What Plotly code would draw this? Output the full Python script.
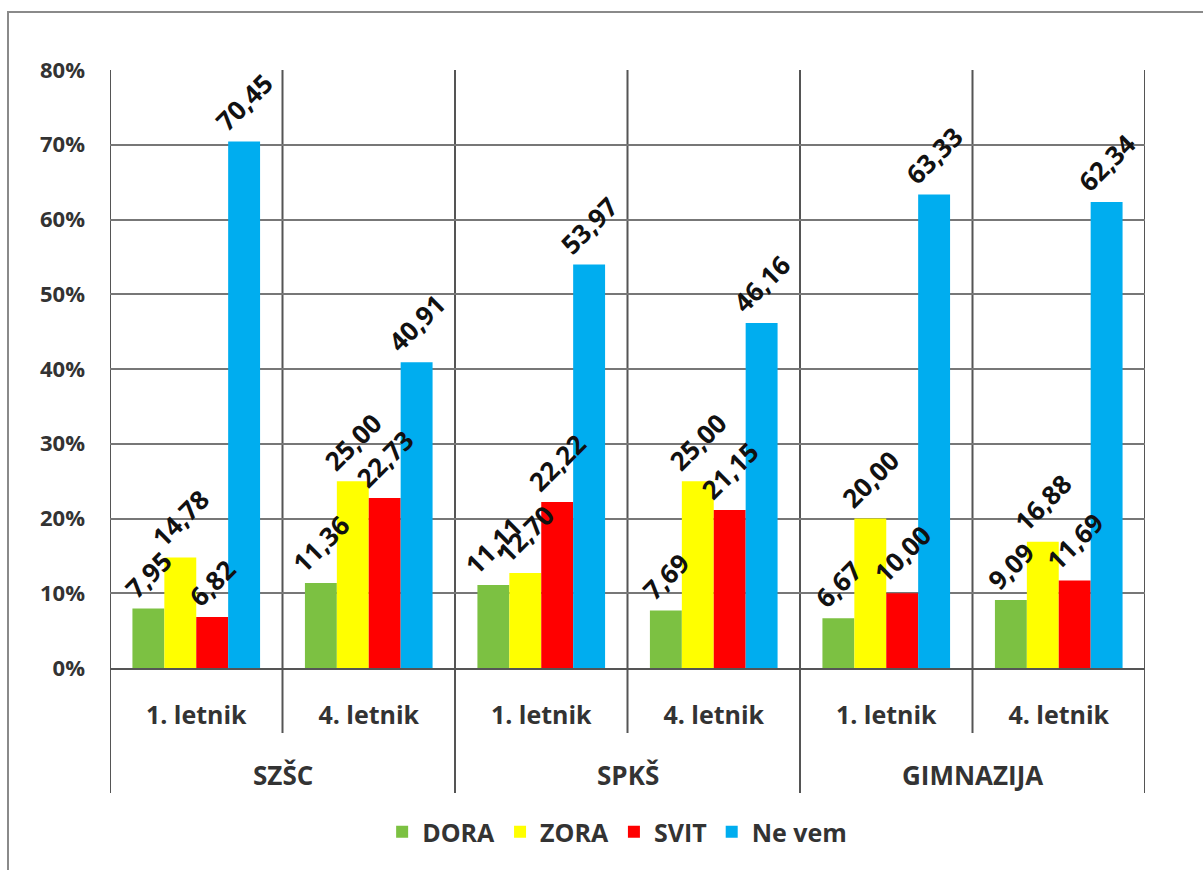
import plotly.graph_objects as go

categories = ["1. letnik", "4. letnik", "1. letnik", "4. letnik", "1. letnik", "4. letnik"]
groups = ["SZŠC", "SPKŠ", "GIMNAZIJA"]
series_names = ["DORA", "ZORA", "SVIT", "Ne vem"]
dora = [7.95, 11.36, 11.11, 7.69, 6.67, 9.09]
zora = [14.78, 25.00, 12.70, 25.00, 20.00, 16.88]
svit = [6.82, 22.73, 22.22, 21.15, 10.00, 11.69]
ne_vem = [70.45, 40.91, 53.97, 46.16, 63.33, 62.34]
y_ticks = [0, 10, 20, 30, 40, 50, 60, 70, 80]
y_tick_labels = ["0%", "10%", "20%", "30%", "40%", "50%", "60%", "70%", "80%"]

colors = ["#7CC142", "#FFFF00", "#FF0000", "#00ADEF"]
font_family = "Open Sans, Lato, DejaVu Sans, sans-serif"

L, R, T, B = 110, 58, 70, 202
W, H = 1203, 870
PW, PH = W - L - R, H - T - B
base_y = H - B


def py(pix):
    return (base_y - pix) / PH


def px(pix):
    return (pix - L) / PW


xpos = list(range(len(categories)))
all_series = [dora, zora, svit, ne_vem]

fig = go.Figure()
# coloured bars
for k, (name, vals, col) in enumerate(zip(series_names, all_series, colors)):
    fig.add_trace(go.Bar(
        x=xpos, y=vals, name=name, offsetgroup=str(k),
        marker=dict(color=col, line=dict(width=0)),
        hoverinfo="skip",
    ))
# value labels drawn on top of all bars
for k, (name, vals) in enumerate(zip(series_names, all_series)):
    fig.add_trace(go.Bar(
        x=xpos, y=vals, name=name, offsetgroup=str(k), showlegend=False,
        marker=dict(color="rgba(0,0,0,0)", line=dict(width=0)),
        texttemplate="%{y:.2f}",
        textposition="outside",
        textangle=-45,
        constraintext="none",
        cliponaxis=False,
        textfont=dict(family=font_family, size=26, color="#111111", weight="bold"),
    ))

shapes = []
# outer chart border
shapes.append(dict(type="rect", xref="paper", yref="paper",
                   x0=px(8), x1=px(1215), y0=py(880), y1=py(12),
                   line=dict(color="#8a8a8a", width=2), fillcolor="rgba(0,0,0,0)", layer="below"))
# vertical dividers on the plot wall
for i in range(len(categories) + 1):
    shapes.append(dict(type="line", xref="x", yref="y", x0=i - 0.5, x1=i - 0.5, y0=0, y1=80,
                       line=dict(color="#555555", width=2), layer="below"))
# table under the axis
for i in range(len(categories) + 1):
    outer = (i % 2 == 0)
    shapes.append(dict(type="line", xref="x", yref="paper", x0=i - 0.5, x1=i - 0.5,
                       y0=py(793) if outer else py(733), y1=0,
                       line=dict(color="#555555", width=2)))

annotations = []
for gi, g in enumerate(groups):
    annotations.append(dict(x=2 * gi + 0.5, xref="x", y=py(775), yref="paper",
                            text=g, showarrow=False, yanchor="middle",
                            font=dict(family=font_family, size=26, color="#333333", weight="bold")))

fig.update_layout(
    width=W, height=H,
    margin=dict(l=L, r=R, t=T, b=B),
    paper_bgcolor="white", plot_bgcolor="white",
    barmode="group", bargap=0.26, bargroupgap=0,
    separators=", ",
    showlegend=True,
    legend=dict(orientation="h", xref="container", yref="container", x=0.513, y=(H - 832) / H,
                xanchor="center", yanchor="middle",
                font=dict(family=font_family, size=25, color="#333333", weight="bold"),
                itemwidth=30, traceorder="normal"),
    xaxis=dict(tickmode="array", tickvals=xpos, ticktext=categories,
               range=[-0.5, len(categories) - 0.5],
               showgrid=False, zeroline=False, showline=True, linecolor="#555555", linewidth=2,
               ticks="", ticklabelstandoff=24,
               tickfont=dict(family=font_family, size=25, color="#333333", weight="bold")),
    yaxis=dict(range=[0, 80], tickmode="array", tickvals=y_ticks, ticktext=y_tick_labels,
               showgrid=True, gridcolor="#777777", gridwidth=1.5,
               zeroline=False, showline=False, ticks="", ticklabelstandoff=24,
               tickfont=dict(family=font_family, size=22, color="#333333", weight="bold")),
    shapes=shapes, annotations=annotations,
)

fig.write_html("out.html")
